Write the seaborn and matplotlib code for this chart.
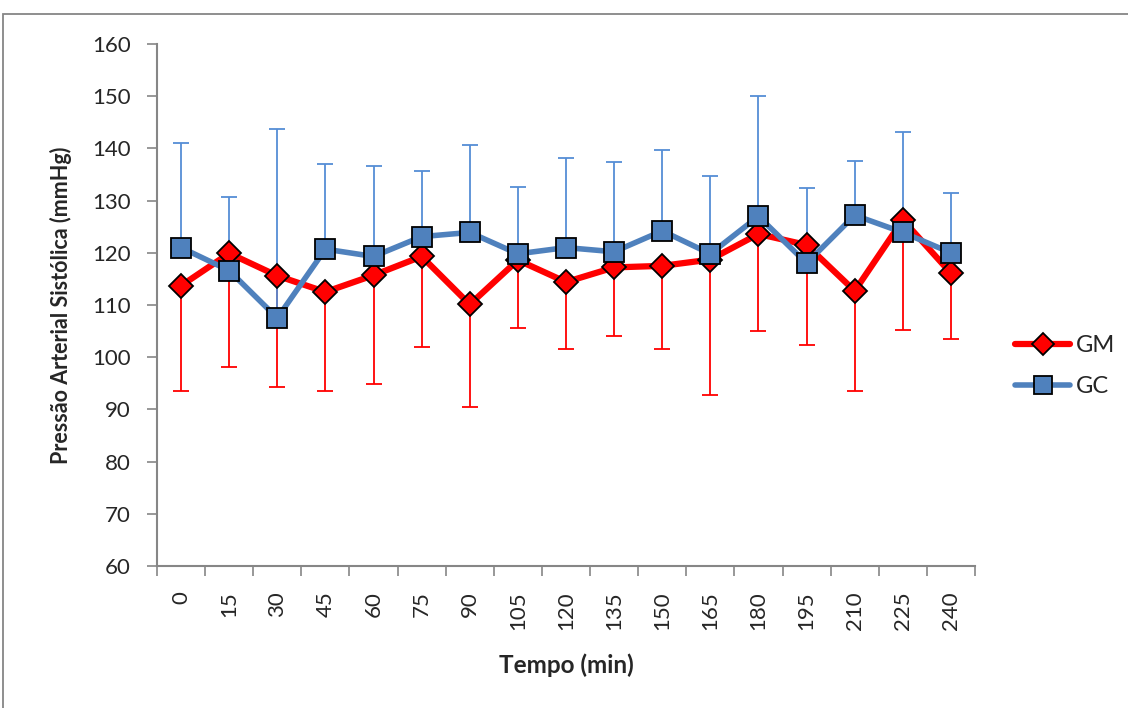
import matplotlib
matplotlib.use("Agg")
import matplotlib.pyplot as plt
import seaborn as sns
import pandas as pd
import numpy as np
from matplotlib.lines import Line2D
from matplotlib.patches import Rectangle

# Time points (min)
tempo = ["0", "15", "30", "45", "60", "75", "90", "105", "120", "135",
         "150", "165", "180", "195", "210", "225", "240"]

# GM: mean and lower deviation
gm_mean = [113.7, 119.9, 115.6, 112.5, 115.7, 119.3, 110.1, 118.6, 114.4, 117.2,
           117.5, 118.7, 123.6, 121.5, 112.7, 126.3, 116.1]
gm_low = [93.6, 98.1, 94.2, 93.5, 94.9, 102.0, 90.5, 105.5, 101.6, 104.1,
          101.6, 92.8, 105.1, 102.3, 93.6, 105.2, 103.5]

# GC: mean and upper deviation
gc_mean = [121.0, 116.6, 107.5, 120.7, 119.3, 123.1, 123.9, 119.8, 121.0, 120.2,
           124.2, 119.8, 127.0, 118.0, 127.2, 123.9, 120.0]
gc_high = [141.1, 130.7, 143.8, 137.0, 136.6, 135.7, 140.7, 132.6, 138.2, 137.3,
           139.7, 134.8, 150.1, 132.4, 137.6, 143.2, 131.4]

RED = "#FF0000"
BLUE = "#4F81BD"
EB_BLUE = "#558ED5"
AXIS_GRAY = "#868686"

sns.set_theme(style="white")
plt.rcParams["font.family"] = ["Lato", "DejaVu Sans"]

fig = plt.figure(figsize=(11.28, 7.08), dpi=100)
ax = fig.add_axes([157 / 1128, 1 - 566 / 708, (975 - 157) / 1128, (566 - 44) / 708])

pos = np.arange(len(tempo))
df = pd.DataFrame({
    "pos": np.concatenate([pos, pos]),
    "valor": gm_mean + gc_mean,
    "grupo": ["GM"] * len(tempo) + ["GC"] * len(tempo),
})

# Error bars: GM downward, GC upward
gm_err = np.array(gm_mean) - np.array(gm_low)
ax.errorbar(pos, gm_mean, yerr=[gm_err, np.zeros_like(gm_err)], fmt="none",
            ecolor=RED, elinewidth=1.3, capsize=6, capthick=1.3, zorder=2)
gc_err = np.array(gc_high) - np.array(gc_mean)
ax.errorbar(pos, gc_mean, yerr=[np.zeros_like(gc_err), gc_err], fmt="none",
            ecolor=EB_BLUE, elinewidth=1.3, capsize=6, capthick=1.3, zorder=2)

sns.lineplot(data=df[df.grupo == "GM"], x="pos", y="valor", color=RED,
             marker="D", markersize=12, markeredgecolor="black", markeredgewidth=1.3,
             linewidth=4.5, ax=ax, zorder=3, legend=False)
sns.lineplot(data=df[df.grupo == "GC"], x="pos", y="valor", color=BLUE,
             marker="s", markersize=14, markeredgecolor="black", markeredgewidth=1.3,
             linewidth=4.0, ax=ax, zorder=4, legend=False)

ax.set_xlim(-0.5, len(tempo) - 0.5)
ax.set_ylim(60, 160)
ax.set_yticks(np.arange(60, 161, 10))
ax.set_xticks(pos)
ax.set_xticklabels(tempo, rotation=90, fontsize=16)
ax.tick_params(axis="x", length=0, pad=18)
ax.set_xticks(np.arange(-0.5, len(tempo), 1), minor=True)
ax.tick_params(axis="x", which="minor", length=7, width=1.2, color=AXIS_GRAY, direction="out")
ax.tick_params(axis="y", length=7, width=1.2, color=AXIS_GRAY, direction="out",
               labelsize=16, pad=12)
ax.tick_params(axis="y", left=True)
ax.xaxis.set_tick_params(which="minor", bottom=True)

for s in ["top", "right"]:
    ax.spines[s].set_visible(False)
for s in ["left", "bottom"]:
    ax.spines[s].set_color(AXIS_GRAY)
    ax.spines[s].set_linewidth(1.5)

ax.set_xlabel("Tempo (min)", fontsize=17.5, fontweight="bold", labelpad=17)
ax.set_ylabel("Pressão Arterial Sistólica (mmHg)", fontsize=15.5, fontweight="bold", labelpad=14)
ax.grid(False)

handles = [
    Line2D([], [], color=RED, linewidth=4.5, marker="D", markersize=11,
           markerfacecolor=RED, markeredgecolor="black", markeredgewidth=1.3),
    Line2D([], [], color=BLUE, linewidth=4.0, marker="s", markersize=13,
           markerfacecolor=BLUE, markeredgecolor="black", markeredgewidth=1.3),
]
fig.legend(handles, ["GM", "GC"], loc="center left",
           bbox_to_anchor=(1006 / 1128, 1 - 366 / 708), frameon=False,
           borderaxespad=0, fontsize=17, handlelength=2.3, handletextpad=0.25,
           labelspacing=0.85)

# Chart area border
fig.patches.append(Rectangle((3 / 1128, -0.05), 1.1, 1 - 14 / 708 + 0.05,
                             transform=fig.transFigure, fill=False,
                             edgecolor=AXIS_GRAY, linewidth=1.3))

fig.savefig("out.png", dpi=100)
